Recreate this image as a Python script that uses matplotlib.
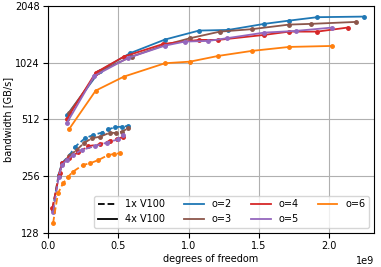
import matplotlib

matplotlib.use("Agg")
import matplotlib.pyplot as plt
from matplotlib.lines import Line2D
from matplotlib.ticker import ScalarFormatter, FixedLocator

ORDERS = [2, 3, 4, 5, 6]
COLORS = {2: "tab:blue", 3: "tab:brown", 4: "tab:red", 5: "tab:purple", 6: "tab:orange"}

# 1x V100 (dashed), degrees of freedom in units of 1e9, bandwidth in GB/s
DOF_1GPU = {
    2: [0.032, 0.075, 0.0996, 0.154, 0.192, 0.263, 0.322, 0.382, 0.429, 0.477, 0.524, 0.571],
    3: [0.032, 0.075, 0.0996, 0.149, 0.204, 0.256, 0.311, 0.370, 0.441, 0.484, 0.524, 0.571],
    4: [0.0306, 0.0832, 0.0996, 0.149, 0.2155, 0.287, 0.370, 0.441, 0.489, 0.536],
    5: [0.0377, 0.0761, 0.0996, 0.133, 0.178, 0.240, 0.334, 0.417, 0.500, 0.536],
    6: [0.0356, 0.0711, 0.107, 0.142, 0.178, 0.249, 0.299, 0.358, 0.429, 0.469, 0.512],
}
BW_1GPU = {
    2: [169, 260, 301, 332, 367, 407, 424, 436, 454, 466, 469, 473],
    3: [172, 257, 297, 328, 353, 384, 407, 415, 436, 434, 441, 460],
    4: [173, 267, 300, 320, 343, 370, 378, 395, 402, 415],
    5: [166, 254, 294, 312, 332, 353, 370, 386, 402, 424],
    6: [144, 208, 235, 254, 271, 294, 300, 312, 332, 336, 339],
}

# 4x V100 (solid)
DOF_4GPU = {
    2: [0.135, 0.370, 0.583, 0.832, 1.074, 1.282, 1.538, 1.716, 1.915, 2.248],
    3: [0.149, 0.356, 0.595, 0.832, 1.010, 1.223, 1.449, 1.716, 1.868, 2.191],
    4: [0.133, 0.339, 0.540, 0.820, 1.074, 1.211, 1.538, 1.716, 1.915, 2.132],
    5: [0.133, 0.329, 0.569, 0.832, 0.974, 1.140, 1.271, 1.538, 1.764, 2.022],
    6: [0.149, 0.339, 0.540, 0.832, 1.010, 1.211, 1.449, 1.716, 2.022],
}
BW_4GPU = {
    2: [540, 929, 1149, 1358, 1515, 1527, 1644, 1711, 1784, 1797],
    3: [556, 915, 1103, 1272, 1380, 1496, 1541, 1630, 1644, 1684],
    4: [513, 907, 1103, 1287, 1352, 1352, 1437, 1496, 1496, 1572],
    5: [489, 871, 1085, 1261, 1325, 1335, 1380, 1478, 1509, 1572],
    6: [454, 728, 864, 1017, 1037, 1112, 1182, 1241, 1256],
}

plt.rcParams["font.size"] = 7

fig = plt.figure(figsize=(3.81, 2.67), dpi=100)
ax = fig.add_axes([0.126, 0.127, 0.856, 0.851])

for o in ORDERS:
    ax.plot([x * 1e9 for x in DOF_1GPU[o]], BW_1GPU[o], "--", marker="o",
            markersize=2.5, linewidth=1.3, color=COLORS[o])
    ax.plot([x * 1e9 for x in DOF_4GPU[o]], BW_4GPU[o], "-", marker="o",
            markersize=2.5, linewidth=1.3, color=COLORS[o])

ax.set_yscale("log", base=2)
ax.yaxis.set_major_locator(FixedLocator([128, 256, 512, 1024, 2048]))
ax.yaxis.set_major_formatter(ScalarFormatter())
ax.yaxis.set_minor_locator(FixedLocator([]))
ax.set_ylim(128, 2048)
ax.set_xlim(0, 2.32e9)
ax.grid(True, color="#b0b0b0", linewidth=0.8)
ax.set_axisbelow(True)
ax.tick_params(pad=2.5)
ax.set_xlabel("degrees of freedom", labelpad=1.5)
ax.set_ylabel("bandwidth [GB/s]", labelpad=1.5)

handles = [
    Line2D([], [], color="black", linestyle="--", linewidth=1.3, label="1x V100"),
    Line2D([], [], color="black", linestyle="-", linewidth=1.3, label="4x V100"),
]
handles += [Line2D([], [], color=COLORS[o], linewidth=1.3, label=f"o={o}") for o in ORDERS]
ax.legend(handles=handles, ncol=4, loc="lower right", fontsize=7)

fig.savefig("out.png", dpi=100)
